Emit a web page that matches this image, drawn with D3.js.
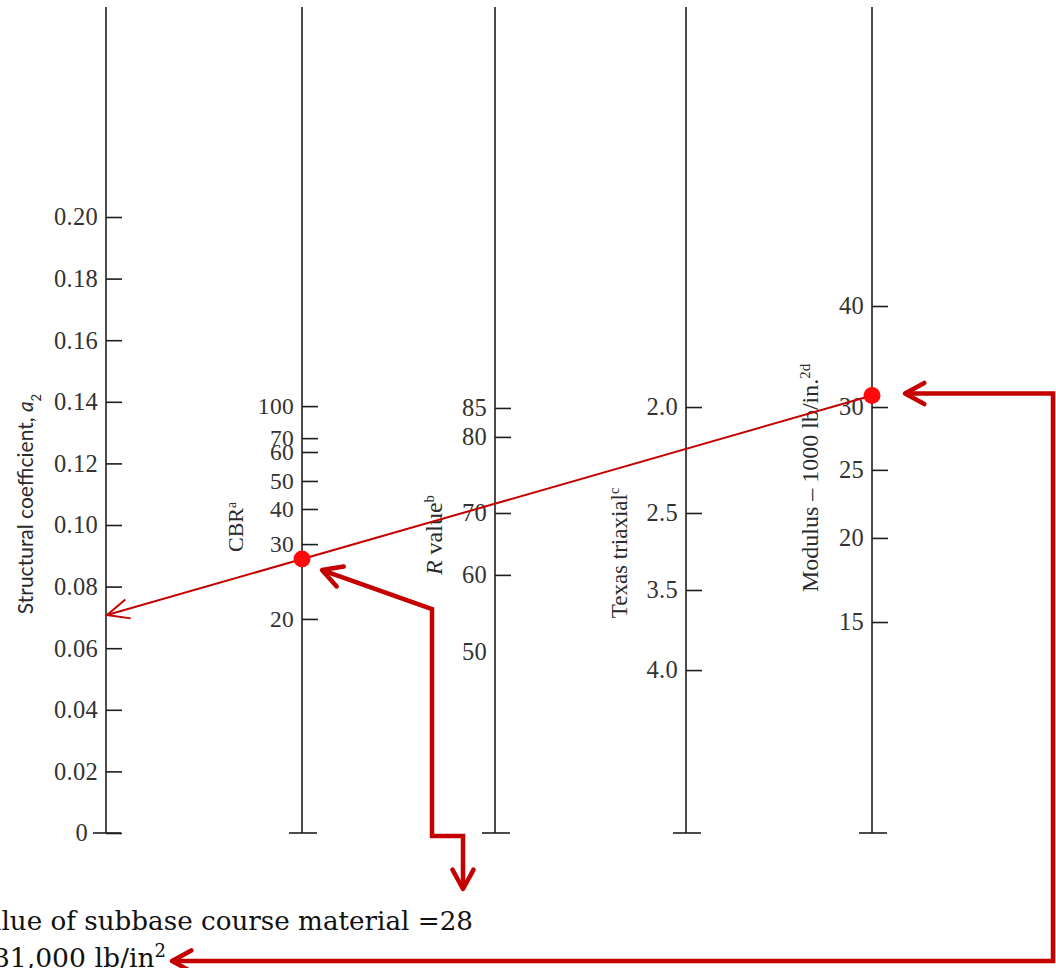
<!DOCTYPE html>
<html>
<head>
<meta charset="utf-8">
<script src="https://cdn.jsdelivr.net/npm/d3@7"></script>
<style>
  body { margin: 0; background: #fff; }
  svg { display: block; }
</style>
</head>
<body>
<svg id="chart" width="1056" height="968"></svg>
<script>
// Graduations printed on each scale of the nomograph
const a2Ticks = [0, 0.02, 0.04, 0.06, 0.08, 0.10, 0.12, 0.14, 0.16, 0.18, 0.20];
const cbrTicks = [20, 30, 40, 50, 60, 70, 100];
const rTicks = [50, 60, 70, 80, 85];
const texasTicks = [2.0, 2.5, 3.5, 4.0];
const modulusTicks = [15, 20, 25, 30, 40];

// Structural coefficient that each graduation lines up with
const cbrA2 = [0.0695, 0.0938, 0.1052, 0.1143, 0.1237, 0.1282, 0.1386];
const rA2 = [0.0588, 0.0838, 0.1039, 0.1286, 0.1380];
const texasA2 = [0.1383, 0.1039, 0.0789, 0.0529];
const modulusA2 = [0.0685, 0.0958, 0.1179, 0.1383, 0.1711];

// Worked example: subbase CBR and resilient modulus (x1000 lb/in²)
const cbrValue = 28;
const modulusValue = 31;

// ---- layout ----
const axisX = { a2: 106, cbr: 302, r: 495, texas: 686, mod: 872 };
const axisTop = 7, axisBase = 833;
const ink = "#1e1e1e";
const red = "#c40000";
const dotRed = "#ff0a0a";
const serif = "'Liberation Serif', 'Times New Roman', serif";

const svg = d3.select("#chart");

const yA2 = d3.scaleLinear().domain([0, 0.20]).range([axisBase, 217]);
const yCbr = d3.scaleLinear().domain(cbrTicks).range(cbrA2.map(yA2));
const yR = d3.scaleLinear().domain(rTicks).range(rA2.map(yA2));
const yTexas = d3.scaleLinear().domain(texasTicks).range(texasA2.map(yA2));
const yMod = d3.scaleLog().domain(modulusTicks).range(modulusA2.map(yA2));

function drawScale(x, scale, ticks, fmt, noTick, size = 24.5) {
  const g = svg.append("g").attr("transform", `translate(${x},0)`);
  g.append("line")
    .attr("x1", 0).attr("x2", 0)
    .attr("y1", axisTop).attr("y2", axisBase)
    .attr("stroke", ink).attr("stroke-width", 1.6);
  g.append("line")
    .attr("x1", -13).attr("x2", 15)
    .attr("y1", axisBase).attr("y2", axisBase)
    .attr("stroke", ink).attr("stroke-width", 1.6);
  const ax = d3.axisLeft(scale)
    .tickValues(ticks)
    .tickSize(-16)
    .tickPadding(8)
    .tickFormat(fmt);
  g.append("g").call(ax).call(s => {
    s.select(".domain").remove();
    s.selectAll(".tick line").attr("stroke", ink).attr("stroke-width", 1.6);
    s.selectAll(".tick text")
      .attr("fill", "#333")
      .attr("font-family", serif)
      .attr("font-size", size)
      .attr("letter-spacing", 0.3);
    if (noTick) s.selectAll(".tick").filter(noTick).select("line").remove();
  });
  return g;
}

const gA2 = drawScale(axisX.a2, yA2, a2Ticks, d => d === 0 ? "0" : d3.format(".2f")(d));
gA2.selectAll(".tick").filter(d => d === 0).select("text").attr("x", -18);
drawScale(axisX.cbr, yCbr, cbrTicks, d3.format("d"), null, 23.5);
drawScale(axisX.r, yR, rTicks, d3.format("d"), d => d === 50);
drawScale(axisX.texas, yTexas, texasTicks, d3.format(".1f"));
drawScale(axisX.mod, yMod, modulusTicks, d3.format("d"));

// ---- scale titles (rotated) ----
function title(x, y, parts, family, size) {
  const t = svg.append("text")
    .attr("transform", `translate(${x},${y}) rotate(-90)`)
    .attr("text-anchor", "middle")
    .attr("font-family", family)
    .attr("font-size", size)
    .attr("fill", "#2a2a2a");
  parts.forEach(p => {
    const s = t.append("tspan").text(p.t);
    if (p.italic) s.attr("font-style", "italic");
    if (p.sup) s.attr("font-size", size * 0.62).attr("baseline-shift", "super");
    if (p.sub) s.attr("font-size", size * 0.62).attr("baseline-shift", "sub");
  });
}
title(33, 504, [{ t: "Structural coefficient, " }, { t: "a", italic: true }, { t: "2", sub: true }],
  "Lato, 'Open Sans', sans-serif", 21);
title(243, 527, [{ t: "CBR" }, { t: "a", sup: true }], serif, 22);
title(442, 535, [{ t: "R", italic: true }, { t: " value" }, { t: "b", sup: true }], serif, 24);
title(627, 553, [{ t: "Texas triaxial" }, { t: "c", sup: true }], serif, 23);
title(818, 478, [{ t: "Modulus \u2013 1000 lb/in." }, { t: "2d", sup: true }], serif, 24);

// ---- worked example ----
const pCbr = [axisX.cbr, yCbr(cbrValue)];
const pMod = [axisX.mod, yMod(modulusValue)];
// extend the line through both points back to the coefficient scale
const slope = (pMod[1] - pCbr[1]) / (pMod[0] - pCbr[0]);
const pA2 = [axisX.a2 + 1, pCbr[1] + slope * (axisX.a2 + 1 - pCbr[0])];

function chevron(tip, from, len, ang) {
  const dx = from[0] - tip[0], dy = from[1] - tip[1];
  const d = Math.hypot(dx, dy), ux = dx / d, uy = dy / d;
  const rot = a => [tip[0] + len * (ux * Math.cos(a) - uy * Math.sin(a)),
                    tip[1] + len * (ux * Math.sin(a) + uy * Math.cos(a))];
  return [rot(ang), tip, rot(-ang)];
}
const line = d3.line();

svg.append("path")
  .attr("d", line([pMod, pA2]))
  .attr("fill", "none").attr("stroke", red).attr("stroke-width", 2);
svg.append("path")
  .attr("d", line(chevron(pA2, pMod, 24, 0.42)))
  .attr("fill", "none").attr("stroke", red).attr("stroke-width", 2);

// leader from the CBR note up to the CBR point
const cbrLeader = [
  [pCbr[0] + 20, pCbr[1] + 11],
  [432, pCbr[1] + 50],
  [432, 836],
  [463, 836],
  [463, 889]
];
// leader from the modulus point out to the modulus note
const modLeader = [
  [pMod[0] + 33, pMod[1] - 2],
  [1053, pMod[1] - 2],
  [1053, 961],
  [172, 961]
];
[cbrLeader, modLeader].forEach(pts => {
  svg.append("path")
    .attr("d", line(pts))
    .attr("fill", "none").attr("stroke", red).attr("stroke-width", 4.5)
    .attr("stroke-linejoin", "miter");
});
[[cbrLeader[0], cbrLeader[1]], [cbrLeader[4], cbrLeader[3]],
 [modLeader[0], modLeader[1]], [modLeader[3], modLeader[2]]].forEach(([tip, from]) => {
  svg.append("path")
    .attr("d", line(chevron(tip, from, 22, 0.5)))
    .attr("fill", "none").attr("stroke", red).attr("stroke-width", 4.5)
    .attr("stroke-linecap", "round").attr("stroke-linejoin", "round");
});

// example points
[pCbr, pMod].forEach(p => {
  svg.append("circle").attr("cx", p[0]).attr("cy", p[1]).attr("r", 8.5).attr("fill", dotRed);
});

// notes along the bottom
const noteFont = "'DejaVu Serif', serif";
svg.append("text")
  .attr("x", 473).attr("y", 930)
  .attr("text-anchor", "end")
  .attr("font-family", noteFont).attr("font-size", 26.2).attr("fill", "#111")
  .text("CBR value of subbase course material =" + cbrValue);
const n2 = svg.append("text")
  .attr("x", 166).attr("y", 967)
  .attr("text-anchor", "end")
  .attr("font-family", noteFont).attr("font-size", 26.6).attr("fill", "#111");
n2.append("tspan").text(d3.format(",")(modulusValue * 1000) + " lb/in");
n2.append("tspan").attr("font-size", 18).attr("baseline-shift", "super").text("2");
</script>
</body>
</html>
